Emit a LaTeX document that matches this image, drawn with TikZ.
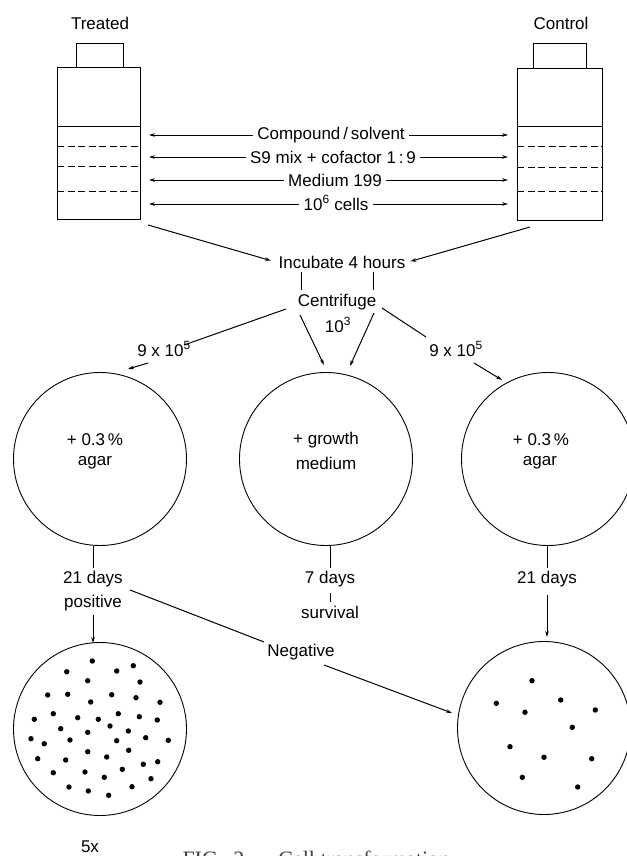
\documentclass[tikz,border=0pt]{standalone}
\usepackage{fontspec}
\setmainfont{Liberation Sans}
\newfontfamily\capfont{Liberation Serif}
\usetikzlibrary{arrows.meta}

\begin{document}
\begin{tikzpicture}[x=1pt,y=-1pt,
  line width=1pt,
  lbl/.style={inner sep=2.5pt, font=\fontsize{17}{19}\selectfont},
  tip/.style={-{Stealth[length=6pt,width=3.6pt]}},
  layer/.style={dash pattern=on 7pt off 3.5pt},
  bottle/.style={draw, anchor=north west, inner sep=0pt},
  dish/.style={draw, circle, minimum size=173pt, inner sep=0pt, line width=0.9pt},
]
\useasboundingbox (0,0) rectangle (626,856);

% ---------- the two tubes ----------
\node[lbl] (treated) at (100,23) {Treated};
\node[lbl] (control) at (561,23) {Control};

\node[bottle, minimum width=47pt, minimum height=24pt] (tcap) at (76,43) {};
\node[bottle, minimum width=83pt, minimum height=152pt] (tb) at (57,67) {};
\node[bottle, minimum width=53pt, minimum height=25pt] (ccap) at (533,43) {};
\node[bottle, minimum width=85pt, minimum height=152pt] (cb) at (517,68) {};

% layers inside each tube
\draw (tb.west |- 0,127) -- (tb.east |- 0,127);
\draw[layer] (tb.west |- 0,146) -- (tb.east |- 0,146);
\draw[layer] (tb.west |- 0,166) -- (tb.east |- 0,166);
\draw[layer] (tb.west |- 0,191) -- (tb.east |- 0,191);
\draw (cb.west |- 0,127) -- (cb.east |- 0,127);
\draw[layer] (cb.west |- 0,146) -- (cb.east |- 0,146);
\draw[layer] (cb.west |- 0,167) -- (cb.east |- 0,167);
\draw[layer] (cb.west |- 0,191) -- (cb.east |- 0,191);

% ---------- contents, pointing to both tubes ----------
\node[lbl, inner sep=4pt] (r1) at (331,135) {Compound\,/\,solvent};
\node[lbl, inner sep=4pt] (r2) at (333,157) {S9 mix + cofactor 1\,:\,9};
\node[lbl, inner sep=4pt] (r3) at (335,180) {Medium 199};
\node[lbl, inner sep=4pt] (r4) at (336,203) {10\textsuperscript{6} cells};
\foreach \r/\yy in {r1/135, r2/157, r3/180, r4/204} {
  \draw[tip] (\r.west |- 0,\yy) -- ([xshift=8pt]tb.east |- 0,\yy);
  \draw[tip] (\r.east |- 0,\yy) -- ([xshift=-9pt]cb.west |- 0,\yy);
}

% ---------- incubation and centrifuge ----------
\node[lbl] (inc) at (342,262) {Incubate 4 hours};
\coordinate (tbout) at (148,225);
\coordinate (cbout) at (530,227);
\draw[tip, shorten >=5pt] (tbout) -- (inc.west);
\draw[tip, shorten >=2pt] (cbout) -- (inc.east);

\node[lbl] (cen) at (337,302) {Centrifuge};
\node[lbl] (n3) at (338,325) {10\textsuperscript{3}};
\draw (301,272) -- (301,290);
\draw (373,272) -- (373,290);

% split to the three dishes
\node[lbl] (nl) at (164,349) {9 x 10\textsuperscript{5}};
\node[lbl] (nr) at (456,349) {9 x 10\textsuperscript{5}};
\coordinate (cl1) at (286,309);
\coordinate (cl2) at (184,345);
\coordinate (cl3) at (148,363);
\coordinate (cl4) at (128,369);
\coordinate (cm1) at (300,315);
\coordinate (cm2) at (324,365);
\coordinate (cm3) at (374,313);
\coordinate (cm4) at (350,366);
\coordinate (cr1) at (382,308);
\coordinate (cr2) at (426,337);
\coordinate (cr3) at (474,363);
\coordinate (cr4) at (502,380);
\draw (cl1) -- (cl2);
\draw[tip] (cl3) -- (cl4);
\draw[tip] (cm1) -- (cm2);
\draw[tip] (cm3) -- (cm4);
\draw (cr1) -- (cr2);
\draw[tip] (cr3) -- (cr4);

% ---------- dishes ----------
\node[dish] (d1) at (100,459) {};
\node[dish] (d2) at (326,459) {};
\node[dish] (d3) at (548,459) {};
\node[lbl] at (95,440) {+ 0.3\,\%};
\node[lbl] at (95,463) {agar};
\node[lbl] at (326,440) {+ growth};
\node[lbl] at (326,463) {medium};
\node[lbl] at (541,440) {+ 0.3\,\%};
\node[lbl] at (540,463) {agar};

% ---------- outcomes ----------
\node[lbl] (l21) at (93,579) {21 days};
\node[lbl] (pos) at (93,603) {positive};
\node[lbl] (m7) at (330,579) {7 days};
\node[lbl] (surv) at (330,612) {survival};
\node[lbl] (r21) at (547,579) {21 days};
\node[lbl] (neg) at (301,652) {Negative};

\draw (93,546) -- (l21.north);
\draw (330,546) -- (m7.north);
\draw (547,546) -- (r21.north);
\draw (330,593) -- (330,602);

\node[dish] (e1) at (100,729) {};
\node[dish] (e2) at (544,728) {};

\draw[tip] (93,615) -- (93,643);
\draw[tip] (547,595) -- (547,637);
\coordinate (ng1) at (130,590);
\coordinate (ng2) at (264,642);
\coordinate (ng3) at (324,665);
\coordinate (ng4) at (452,713);
\draw (ng1) -- (ng2);
\draw[tip] (ng3) -- (ng4);

% colonies
\foreach \p in {
 (92.3,661),(66.7,671.7),(116.7,671),(133.3,665.7),(87.7,680.7),(140,682),
 (47.7,695),(67.7,694.3),(111.7,694.7),(136,697.7),(90.7,702),(160,702.3),
 (34.3,719.3),(53.3,713.7),(77.7,717.7),(98.3,719.3),(118.3,713.7),(139.3,716.7),
 (157.3,720),(60.7,728.7),(110,726),(87.7,732.3),(128.3,731),(31,738.7),
 (44.3,743.7),(70,740),(116.7,740.7),(145.7,737.7),(168.3,740.3),(87.7,751.7),
 (128.7,750.3),(37.7,758.7),(65.7,760),(106.7,757),(143.3,764.3),(157.7,761.7),
 (53.3,772.7),(85,772),(122.3,769.3),(104.3,777.3),(151,778.7),(69,787),
 (88.3,791),(108.7,795.3),(132,786.7)}
  \fill \p circle (2.7);
\foreach \p in {
 (532,680.7),(496.3,703.3),(560.7,700),(525,712.3),(595.3,710),(572.3,727.3),
 (510,746.7),(544,757.3),(591.7,758.7),(522.3,777.3),(577.7,787)}
  \fill \p circle (2.7);

\node[lbl] (five) at (90,847) {5x};
\node[anchor=base west, inner sep=0pt, font=\capfont\fontsize{22}{24}\selectfont, text=black!75]
  (caption) at (182,866) {FIG.\hspace{10pt}2\hspace{5pt}---\hspace{7pt}Cell transformation};
\end{tikzpicture}
\end{document}
